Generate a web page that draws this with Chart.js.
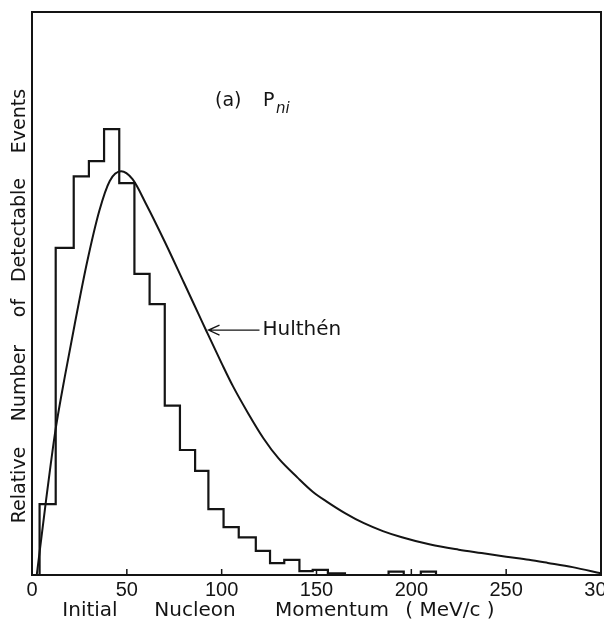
<!DOCTYPE html>
<html>
<head>
<meta charset="utf-8">
<script src="https://cdn.jsdelivr.net/npm/chart.js@4.4.1/dist/chart.umd.min.js"></script>
<style>
  html, body { margin: 0; padding: 0; background: #fff; }
  #wrap { width: 604px; height: 623px; }
</style>
</head>
<body>
<div id="wrap"><canvas id="chart" width="604" height="623"></canvas></div>
<script>
// histogram of detectable events, bin edges in MeV/c
const binEdges = [4, 12.5, 22, 30, 38, 46, 54, 62, 70, 78, 86, 93, 101, 109, 118, 125.5, 133, 141, 148, 156, 165, 188, 196, 205, 213];
const binCounts = [12.6, 58.1, 70.8, 73.5, 79.2, 69.6, 53.5, 48.1, 30.1, 22.2, 18.5, 11.7, 8.5, 6.7, 4.3, 2.1, 2.7, 0.7, 0.9, 0.3, 0, 0.6, 0, 0.6];

// Hulthén momentum distribution
const hulthenP = [2.5, 7.5, 10, 12.5, 17.5, 22.5, 29, 35.5, 41, 47, 53, 60, 70, 80, 88, 92, 100, 106, 114, 122, 130, 140, 148, 155.6, 165, 175, 185, 195, 210, 225, 237, 250, 262, 272, 285, 300];
const hulthenY = [0, 13.5, 20, 26, 35.6, 44.5, 55.5, 64.7, 70, 71.7, 70.3, 66, 59.2, 52, 46.2, 43.3, 37.6, 33.5, 28.7, 24.3, 20.7, 17.3, 14.8, 13, 11, 9.2, 7.8, 6.7, 5.4, 4.5, 3.9, 3.25, 2.7, 2.15, 1.4, 0.3];

const xTicks = [0, 50, 100, 150, 200, 250, 300];

const ink = '#141414';

const histPoints = [{ x: 0, y: 0 }];
binEdges.forEach((e, i) => histPoints.push({ x: e, y: i < binCounts.length ? binCounts[i] : 0 }));
const curvePoints = hulthenP.map((p, i) => ({ x: p, y: hulthenY[i] }));

const decor = {
    id: 'decor',
    afterDraw(chart) {
        const { ctx, chartArea: a, scales: { x, y } } = chart;
        ctx.save();
        ctx.strokeStyle = ink;
        ctx.fillStyle = ink;

        // frame
        ctx.lineWidth = 2;
        ctx.strokeRect(a.left, a.top, a.right - a.left, a.bottom - a.top);

        // inward tick marks
        ctx.lineWidth = 1.5;
        xTicks.slice(1, -1).forEach(v => {
            const px = x.getPixelForValue(v);
            ctx.beginPath();
            ctx.moveTo(px, a.bottom);
            ctx.lineTo(px, a.bottom - 6);
            ctx.stroke();
        });

        // axis titles
        ctx.font = '20px "DejaVu Sans"';
        ctx.textAlign = 'center';
        ctx.textBaseline = 'middle';
        [['Initial', 90], ['Nucleon', 195], ['Momentum', 332], ['( MeV/c )', 450]].forEach(([t, cx]) => {
            ctx.fillText(t, cx, 611);
        });

        ctx.save();
        ctx.translate(20, 0);
        ctx.rotate(-Math.PI / 2);
        ctx.font = '19px "DejaVu Sans"';
        [['Relative', 485], ['Number', 383], ['of', 308], ['Detectable', 230], ['Events', 121]].forEach(([t, cy]) => {
            ctx.fillText(t, -cy, 0);
        });
        ctx.restore();

        // panel label
        ctx.textAlign = 'left';
        ctx.font = '19px "DejaVu Sans"';
        ctx.fillText('(a)', 215, 101);
        ctx.fillText('P', 263, 101);
        ctx.font = 'italic 15px "DejaVu Sans"';
        ctx.fillText('ni', 276, 109);

        // Hulthén arrow
        const tipX = x.getPixelForValue(92) + 2;
        const tipY = y.getPixelForValue(43.5);
        ctx.lineWidth = 1.3;
        ctx.beginPath();
        ctx.moveTo(tipX, tipY);
        ctx.lineTo(tipX + 51, tipY);
        ctx.moveTo(tipX + 11, tipY - 5);
        ctx.lineTo(tipX, tipY);
        ctx.lineTo(tipX + 11, tipY + 5);
        ctx.stroke();
        ctx.font = '20px "DejaVu Sans"';
        ctx.fillText('Hulthén', tipX + 54, tipY);

        ctx.restore();
    }
};

new Chart(document.getElementById('chart'), {
    type: 'line',
    data: {
        datasets: [
            {
                label: 'Detectable events',
                data: histPoints,
                stepped: 'before',
                borderColor: ink,
                borderWidth: 2.2,
                pointRadius: 0,
                fill: false,
            },
            {
                label: 'Hulthén',
                data: curvePoints,
                borderColor: ink,
                borderWidth: 2,
                pointRadius: 0,
                fill: false,
                cubicInterpolationMode: 'monotone',
            },
        ],
    },
    options: {
        responsive: false,
        animation: false,
        devicePixelRatio: 1,
        layout: { padding: { left: 32, right: 3, top: 12, bottom: 0 } },
        plugins: { legend: { display: false }, tooltip: { enabled: false } },
        scales: {
            x: {
                type: 'linear',
                min: 0,
                max: 300,
                afterBuildTicks: s => { s.ticks = xTicks.map(v => ({ value: v })); },
                afterFit: s => { s.paddingLeft = 0; s.paddingRight = 0; s.height = 48; },
                grid: { display: false, drawTicks: false },
                border: { display: false },
                ticks: {
                    color: ink,
                    font: { family: 'Liberation Sans', size: 20 },
                    padding: 3,
                    maxRotation: 0,
                    autoSkip: false,
                },
            },
            y: { display: false, min: 0, max: 100 },
        },
    },
    plugins: [decor],
});
</script>
</body>
</html>
